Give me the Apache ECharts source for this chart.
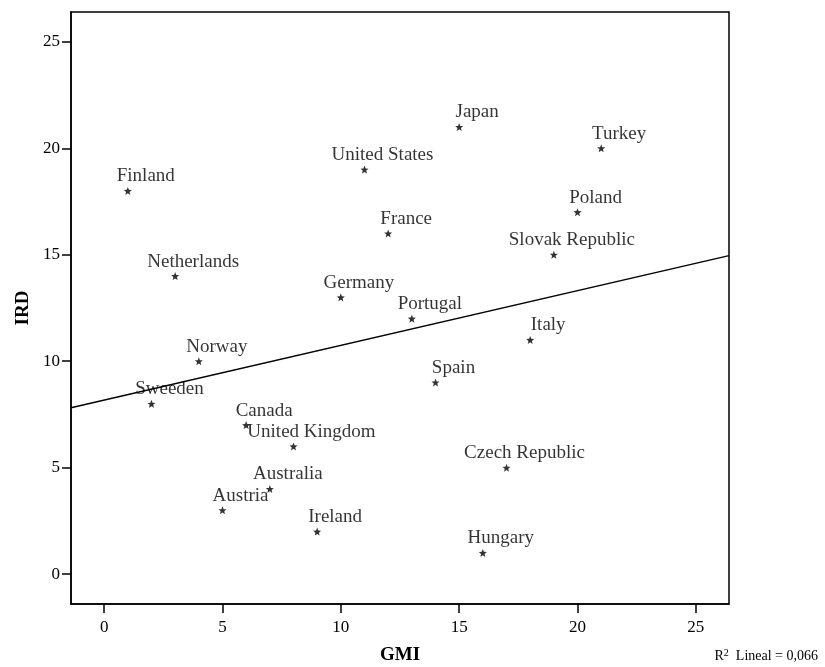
<!DOCTYPE html>
<html>
<head>
<meta charset="utf-8">
<script src="https://cdn.jsdelivr.net/npm/echarts@6/dist/echarts.min.js"></script>
<style>html,body{margin:0;padding:0;background:#fff;}#c{width:825px;height:667px;}</style>
</head>
<body>
<div id="c"></div>
<script>
const countries = ["Finland","Netherlands","Norway","Sweeden","Canada","United Kingdom","Australia","Austria","Ireland","Germany","Portugal","United States","France","Japan","Spain","Hungary","Czech Republic","Italy","Slovak Republic","Poland","Turkey"];
const gmi = [1,3,4,2,6,8,7,5,9,10,13,11,12,15,14,16,17,18,19,20,21];
const ird = [18,14,10,8,7,6,4,3,2,13,12,19,16,21,9,1,5,11,15,17,20];
const tickValues = [0,5,10,15,20,25];
const rSquaredText = "0,066";

const n = gmi.length;
const mx = gmi.reduce((a,b)=>a+b,0)/n, my = ird.reduce((a,b)=>a+b,0)/n;
let sxy=0, sxx=0;
for (let i=0;i<n;i++){ sxy+=(gmi[i]-mx)*(ird[i]-my); sxx+=(gmi[i]-mx)*(gmi[i]-mx); }
const slope = sxy/sxx, intercept = my - slope*mx;
const xMin=-1.4, xMax=26.4, yMin=-1.4, yMax=26.4;

const font = "'Liberation Serif','Times New Roman',serif";
const star = 'path://M0,-10 L2.6,-3.4 9.5,-3.1 4.2,1.4 5.9,8.1 0,4.3 -5.9,8.1 -4.2,1.4 -9.5,-3.1 -2.6,-3.4 Z';

const chart = echarts.init(document.getElementById('c'));
const axisCommon = {
  type:'value', interval:5,
  axisLine:{show:true,onZero:false,lineStyle:{color:'#000',width:1.5}},
  axisTick:{show:true,length:9,inside:false,lineStyle:{color:'#000',width:1.5},customValues:tickValues},
  axisLabel:{color:'#000',fontFamily:font,fontSize:17,customValues:tickValues},
  splitLine:{show:false}
};
chart.setOption({
  animation:false,
  grid:{left:71,right:96,top:12,bottom:63,show:true,borderColor:'#000',borderWidth:1.5,containLabel:false,outerBoundsMode:'none'},
  xAxis:Object.assign({},axisCommon,{min:xMin,max:xMax,
    axisLabel:Object.assign({},axisCommon.axisLabel,{margin:15}),
    name:'GMI',nameLocation:'middle',nameGap:42,
    nameTextStyle:{fontFamily:font,fontSize:19,fontWeight:'bold',color:'#000'}}),
  yAxis:Object.assign({},axisCommon,{min:yMin,max:yMax,
    axisLabel:Object.assign({},axisCommon.axisLabel,{margin:11}),
    name:'IRD',nameLocation:'middle',nameGap:36,nameRotate:90,
    nameTextStyle:{fontFamily:font,fontSize:19,fontWeight:'bold',color:'#000'}}),
  series:[
    {type:'line',data:[[xMin,intercept+slope*xMin],[xMax,intercept+slope*xMax]],
     symbol:'none',lineStyle:{color:'#000',width:1.5},silent:true,z:1},
    {type:'scatter',data:gmi.map((x,i)=>({value:[x,ird[i]],name:countries[i]})),
     symbol:star,symbolSize:8,itemStyle:{color:'#000'},z:2,
     label:{show:true,position:'top',distance:1,offset:[18,0],formatter:p=>p.name,
       fontFamily:font,fontSize:19,color:'#000'}}
  ],
  graphic:[{type:'text',right:7,top:648,style:{
    text:'{n|R}{s|2}{n|  Lineal = '+rSquaredText+'}',fill:'#000',
    rich:{n:{fontFamily:font,fontSize:14,fill:'#000'},s:{fontFamily:font,fontSize:10,fill:'#000',verticalAlign:'top',padding:[0,0,6,0]}}}}]
});
</script>
</body>
</html>
